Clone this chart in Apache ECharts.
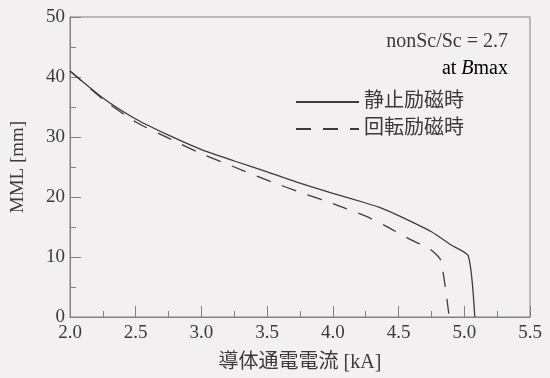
<!DOCTYPE html>
<html><head><meta charset="utf-8">
<script src="https://cdn.jsdelivr.net/npm/echarts@6/dist/echarts.min.js"></script>
<style>html,body{margin:0;padding:0;background:#f3f0f1}#c{width:550px;height:378px}</style>
</head><body><div id="c"></div>
<script>
const staticX = [2.0, 2.25, 2.5, 2.75, 3.0, 3.25, 3.5, 3.75, 4.0, 4.25, 4.35, 4.5, 4.75, 4.9, 5.03, 5.08];
const staticY = [41.0, 36.5, 33.0, 30.3, 27.9, 26.0, 24.2, 22.3, 20.6, 19.0, 18.3, 16.9, 14.2, 12.0, 10.2, 0];
const rotX = [2.0, 2.25, 2.5, 2.75, 3.0, 3.25, 3.5, 3.75, 4.0, 4.25, 4.4, 4.6, 4.74, 4.82, 4.885];
const rotY = [41.0, 36.3, 32.5, 29.8, 27.2, 25.0, 22.8, 20.8, 18.9, 16.8, 15.2, 12.8, 11.3, 9.5, 0];
const seriesNames = ['静止励磁時', '回転励磁時'];
const xName = '導体通電電流 [kA]';
const yName = 'MML [mm]';
const noteLine1 = 'nonSc/Sc = 2.7';

const FONT = '"Liberation Serif", "Noto Sans CJK JP", serif';
const TXT = '#3a3a3a';
const AX = '#808080';
const zip = (a, b) => a.map((v, i) => [v, b[i]]);

const chart = echarts.init(document.getElementById('c'));
chart.setOption({
  backgroundColor: '#f3f0f1',
  animation: false,
  textStyle: { fontFamily: FONT, color: TXT },
  grid: { left: 70, right: 20, top: 17, bottom: 56, show: true, borderColor: AX, borderWidth: 1, backgroundColor: 'transparent' },
  xAxis: {
    type: 'value', min: 2, max: 5.5, interval: 0.5,
    name: xName, nameLocation: 'middle', nameGap: 36,
    nameTextStyle: { fontFamily: FONT, fontSize: 20, color: TXT },
    axisLine: { show: true, lineStyle: { color: AX, width: 1 } },
    axisTick: { show: true, inside: true, length: 11, lineStyle: { color: AX } },
    minorTick: { show: true, splitNumber: 2, length: 6, lineStyle: { color: AX } },
    splitLine: { show: false },
    axisLabel: { fontFamily: FONT, fontSize: 19, color: TXT, margin: 7, formatter: v => v.toFixed(1) }
  },
  yAxis: {
    type: 'value', min: 0, max: 50, interval: 10,
    name: yName, nameLocation: 'middle', nameGap: 42, nameRotate: 90,
    nameTextStyle: { fontFamily: FONT, fontSize: 19, color: TXT },
    axisLine: { show: true, lineStyle: { color: AX, width: 1 } },
    axisTick: { show: true, inside: true, length: 11, lineStyle: { color: AX } },
    minorTick: { show: true, splitNumber: 2, length: 6, lineStyle: { color: AX } },
    splitLine: { show: false },
    axisLabel: { fontFamily: FONT, fontSize: 19, color: TXT, margin: 5 }
  },
  legend: {
    orient: 'vertical', left: 290, top: 87, itemWidth: 63, itemHeight: 14, itemGap: 7,
    itemStyle: { opacity: 0 },
    textStyle: { fontFamily: FONT, fontSize: 20, color: TXT },
    data: seriesNames
  },
  graphic: [
    { type: 'text', x: 508, y: 42, style: { text: noteLine1, fontFamily: FONT, fontSize: 20, fill: TXT, align: 'right', verticalAlign: 'middle' } },
    { type: 'text', x: 508, y: 69, style: {
      text: '{a|at }{b|B}{a|max}', align: 'right', verticalAlign: 'middle',
      rich: { a: { fontFamily: FONT, fontSize: 20, color: TXT }, b: { fontFamily: FONT, fontSize: 20, color: TXT, fontStyle: 'italic' } }
    } }
  ],
  series: [
    { name: seriesNames[0], type: 'line', data: zip(staticX, staticY), showSymbol: false, symbol: 'none', smooth: 0.2,
      lineStyle: { color: '#3c3c3c', width: 1.3, type: 'solid' }, itemStyle: { color: '#3c3c3c' } },
    { name: seriesNames[1], type: 'line', data: zip(rotX, rotY), showSymbol: false, symbol: 'none', smooth: 0.2,
      lineStyle: { color: '#3c3c3c', width: 1.3, type: [15, 12] }, itemStyle: { color: '#3c3c3c' } }
  ]
});
</script></body></html>
